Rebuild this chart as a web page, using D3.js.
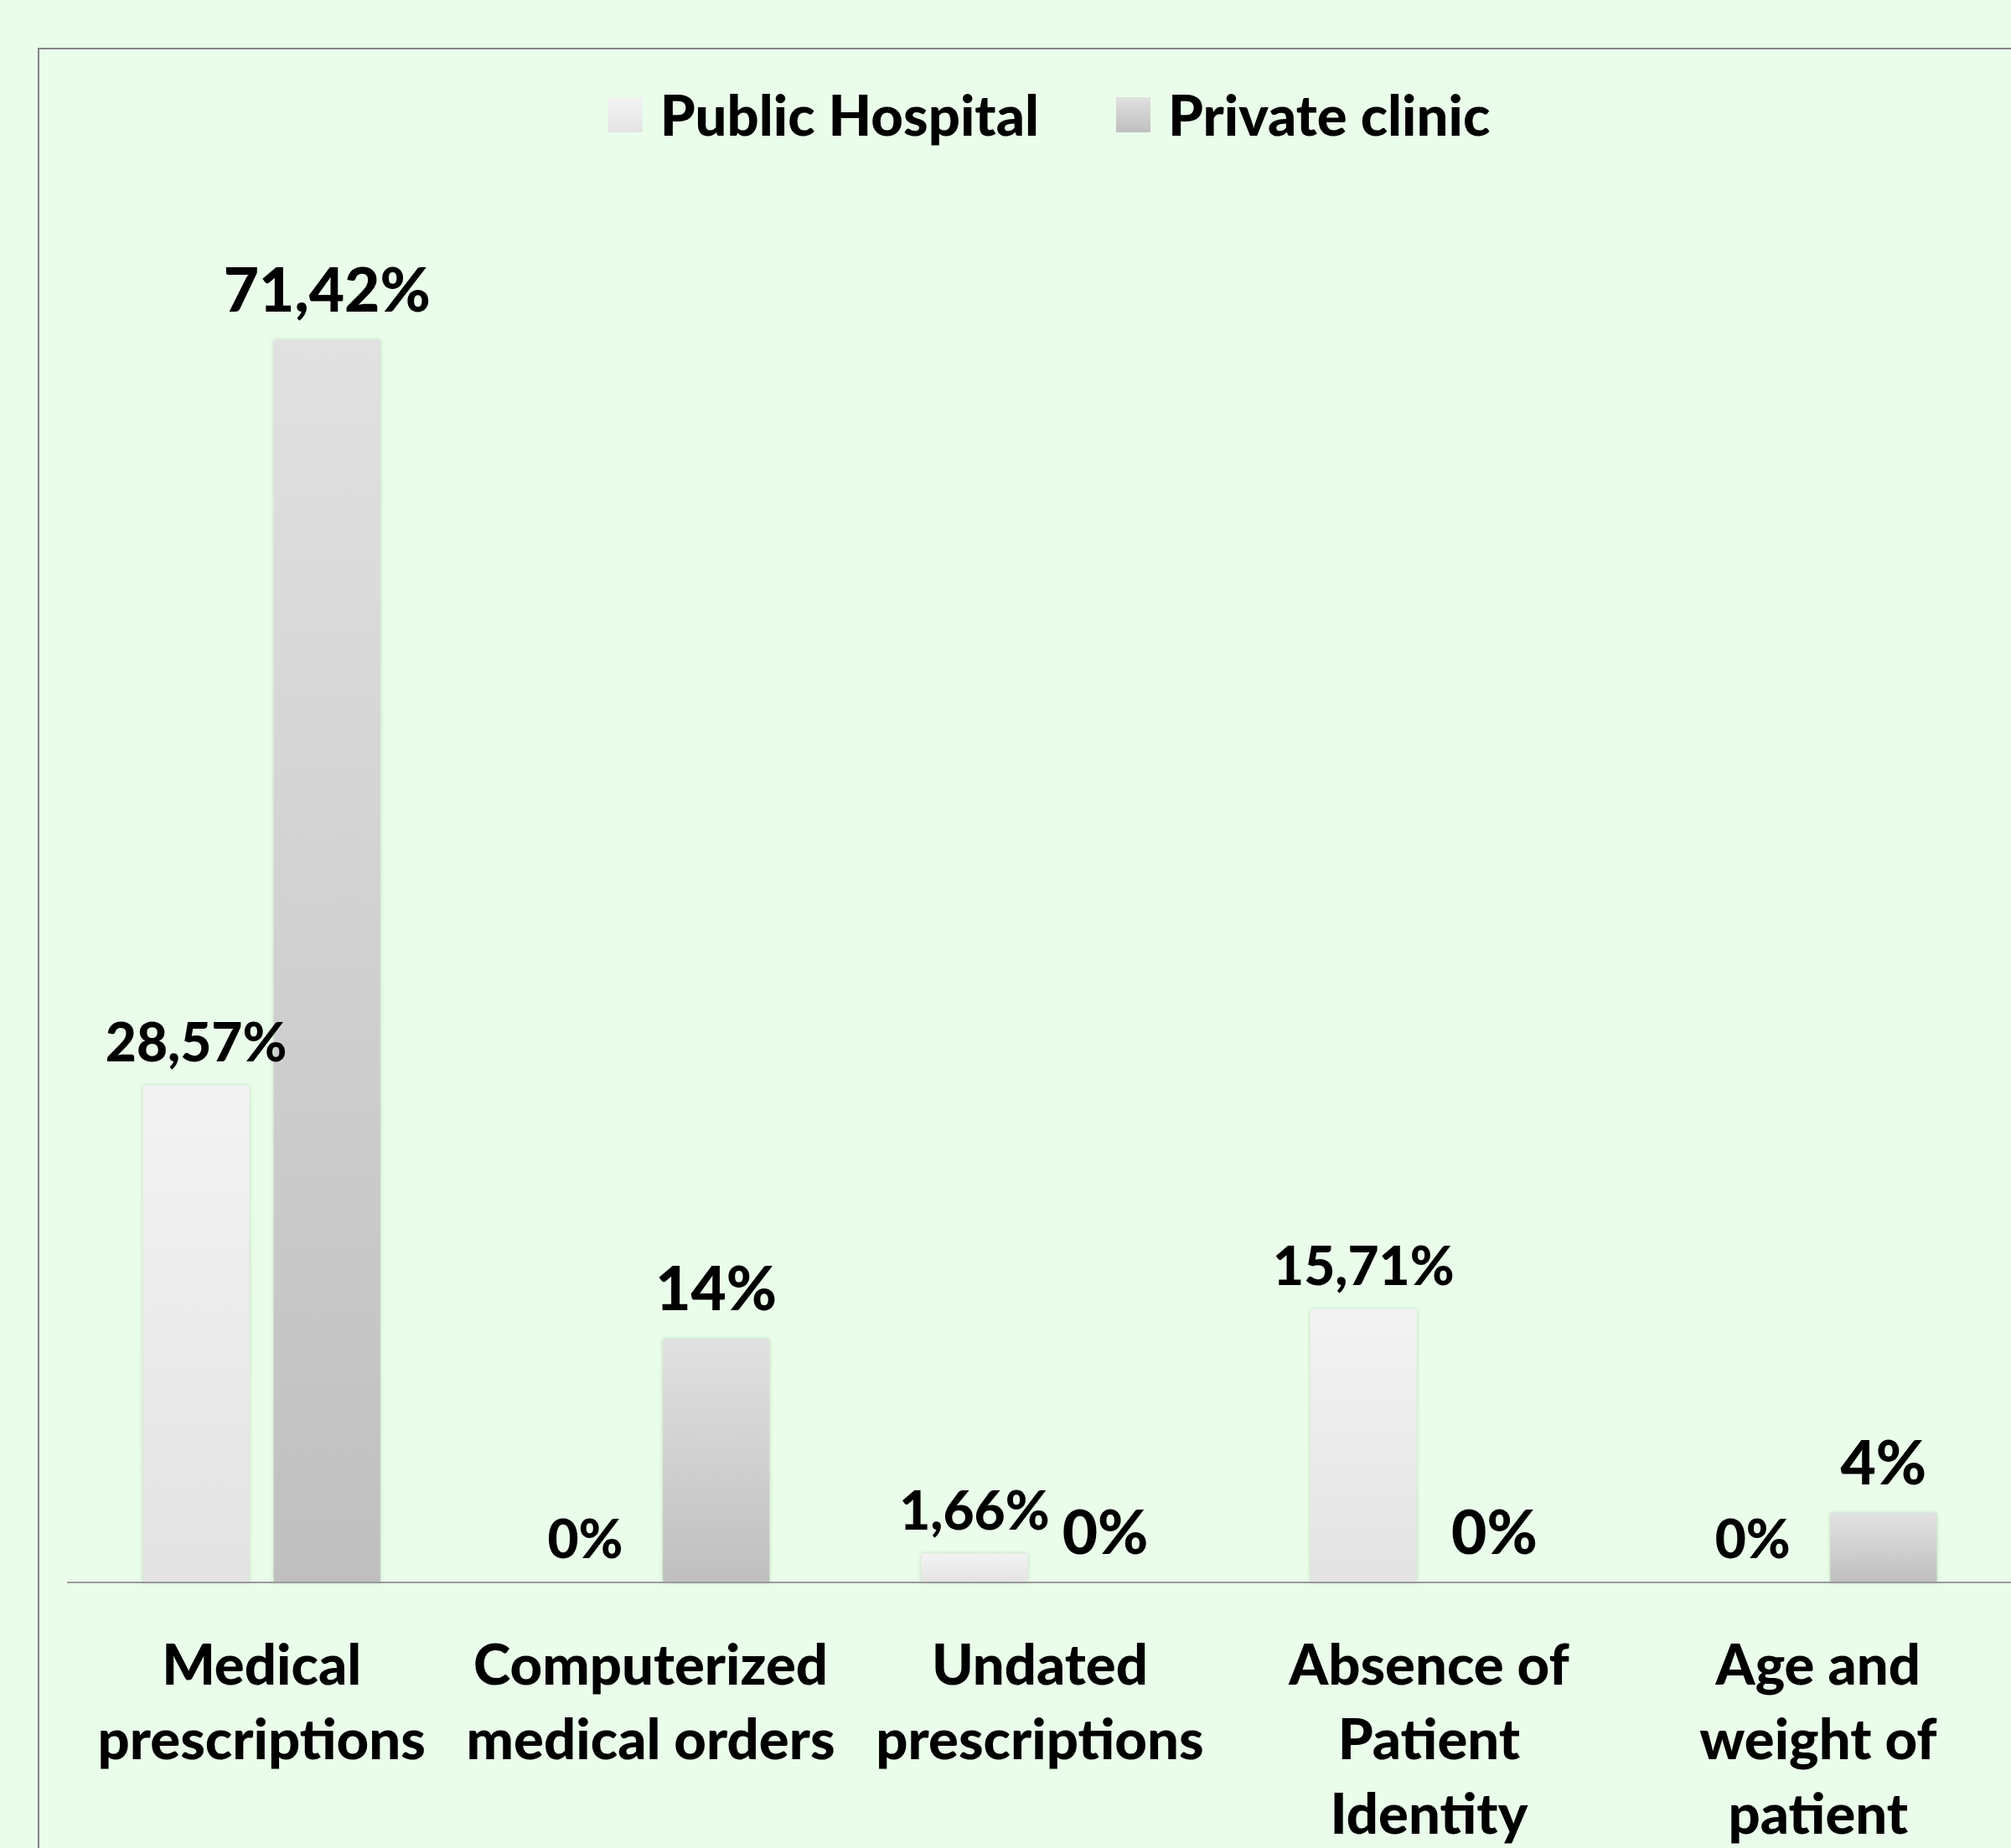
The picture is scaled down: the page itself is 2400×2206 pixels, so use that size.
<!DOCTYPE html>
<html>
<head>
<meta charset="utf-8">
<script src="https://cdn.jsdelivr.net/npm/d3@7"></script>
<style>
  body { margin: 0; background: #eafdea; }
  text { font-family: Lato, "DejaVu Sans", sans-serif; font-weight: 900; fill: #000; }
</style>
</head>
<body>
<div id="chart"></div>
<script>
// data
const categories = ["Medical prescriptions", "Computerized medical orders", "Undated prescriptions",
                    "Absence of Patient Identity", "Age and weight of patient"];
const categoryLines = [["Medical", "prescriptions"], ["Computerized", "medical orders"], ["Undated", "prescriptions"],
                       ["Absence of", "Patient", "Identity"], ["Age and", "weight of", "patient"]];
const seriesNames = ["Public Hospital", "Private clinic"];
const publicHospital = [28.57, 0, 1.66, 15.71, 0];
const privateClinic = [71.42, 14, 0, 0, 4];

let width = 2400, height = 2206;
let axisY = 1889;

let svg = d3.select("#chart")
    .append("svg")
    .attr("width", width)
    .attr("height", height);

let defs = svg.append("defs");

// gradients for the two series
let grads = [["g0", "#f3f3f3", "#e3e3e3"], ["g1", "#e1e1e1", "#bfbfbf"]];
grads.forEach(function(g) {
    let lg = defs.append("linearGradient").attr("id", g[0])
        .attr("x1", 0).attr("y1", 0).attr("x2", 0).attr("y2", 1);
    lg.append("stop").attr("offset", "0%").attr("stop-color", g[1]);
    lg.append("stop").attr("offset", "100%").attr("stop-color", g[2]);
});

let shadow = defs.append("filter").attr("id", "shadow")
    .attr("x", "-10%").attr("y", "-10%").attr("width", "120%").attr("height", "120%");
shadow.append("feDropShadow").attr("dx", 0).attr("dy", 0).attr("stdDeviation", 2.5)
    .attr("flood-color", "#9fbf9f").attr("flood-opacity", 0.6);

svg.append("rect")
    .attr("width", width).attr("height", height)
    .attr("fill", "#eafdea");

// outer frame (right and bottom run off the page)
svg.append("rect")
    .attr("x", 46).attr("y", 58)
    .attr("width", 2500).attr("height", 2500)
    .attr("fill", "none")
    .attr("stroke", "#858585")
    .attr("stroke-width", 2);

let x0 = d3.scaleBand()
    .domain(categories)
    .range([80, 2402]);

let x1 = d3.scaleBand()
    .domain(seriesNames)
    .range([0, x0.bandwidth()])
    .paddingInner(0.186)
    .paddingOuter(0.58);

let y = d3.scaleLinear()
    .domain([0, 80])
    .range([axisY, axisY - 80 * 20.77]);

let fmt = d3.formatLocale({decimal: ",", thousands: ".", grouping: [3], currency: ["", ""]}).format(".2~f");

let rows = [];
categories.forEach(function(c, i) {
    rows.push({cat: c, series: seriesNames[0], value: publicHospital[i], k: 0});
    rows.push({cat: c, series: seriesNames[1], value: privateClinic[i], k: 1});
});

svg.append("g").selectAll("rect")
    .data(rows.filter(function(d) { return d.value > 0; }))
    .enter()
    .append("rect")
    .attr("x", function(d) { return x0(d.cat) + x1(d.series); })
    .attr("y", function(d) { return y(d.value); })
    .attr("width", x1.bandwidth())
    .attr("height", function(d) { return axisY - y(d.value); })
    .attr("fill", function(d) { return "url(#g" + d.k + ")"; })
    .attr("filter", "url(#shadow)");

// baseline
svg.append("line")
    .attr("x1", 80).attr("x2", width)
    .attr("y1", axisY).attr("y2", axisY)
    .attr("stroke", "#9a9a9a")
    .attr("stroke-width", 2);

// value labels
svg.append("g").selectAll("text")
    .data(rows)
    .enter()
    .append("text")
    .attr("x", function(d) { return x0(d.cat) + x1(d.series) + x1.bandwidth() / 2; })
    .attr("y", function(d) { return y(d.value) - (d.k == 0 ? 29 : 34); })
    .style("font-size", function(d) { return d.k == 0 ? "64px" : "73px"; })
    .style("text-anchor", "middle")
    .text(function(d) { return fmt(d.value) + "%"; });

// category labels
let catG = svg.append("g").selectAll("text")
    .data(categories)
    .enter()
    .append("text")
    .attr("x", function(d) { return x0(d) + x0.bandwidth() / 2; })
    .attr("y", 2011)
    .style("font-size", "67px")
    .style("text-anchor", "middle");

catG.selectAll("tspan")
    .data(function(d, i) { return categoryLines[i]; })
    .enter()
    .append("tspan")
    .attr("x", function() { return d3.select(this.parentNode).attr("x"); })
    .attr("dy", function(d, i) { return i == 0 ? 0 : 89; })
    .text(function(d) { return d; });

// legend
let legend = svg.append("g");
let items = legend.selectAll("g")
    .data(seriesNames)
    .enter()
    .append("g");

items.append("rect")
    .attr("width", 41).attr("height", 42)
    .attr("y", 116)
    .attr("fill", function(d, i) { return "url(#g" + i + ")"; });

items.append("text")
    .attr("x", 62)
    .attr("y", 162)
    .style("font-size", "67px")
    .text(function(d) { return d; });

let xpos = 0;
let widths = [];
items.each(function() {
    widths.push(d3.select(this).select("text").node().getComputedTextLength() + 62);
});
let gap = 92;
let total = d3.sum(widths) + gap;
let start = 1252 - total / 2;
items.attr("transform", function(d, i) {
    let t = `translate(${start + xpos},0)`;
    xpos += widths[i] + gap;
    return t;
});
</script>
</body>
</html>
